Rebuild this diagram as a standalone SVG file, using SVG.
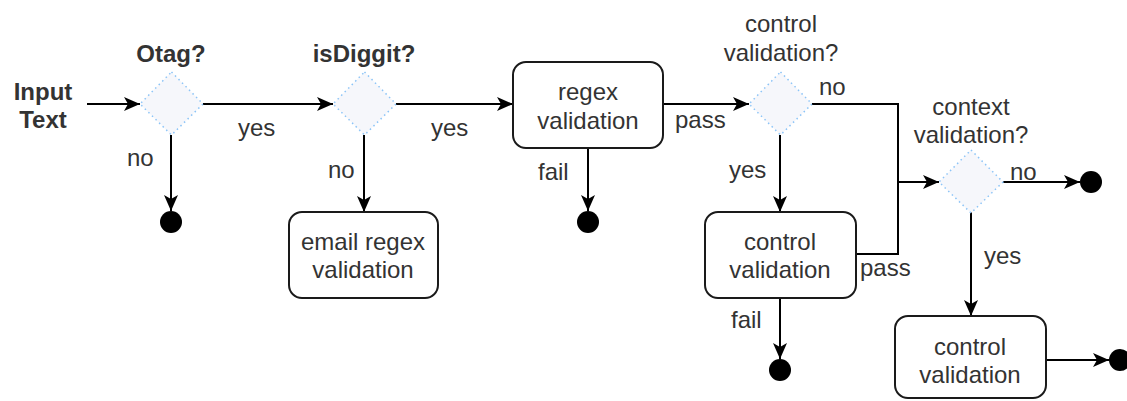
<svg xmlns="http://www.w3.org/2000/svg" width="1127" height="401" viewBox="0 0 1127 401">
  <style>
    text { font-family: "Liberation Sans", Arial, sans-serif; font-size: 24px; fill: #333333; text-anchor: middle; }
    .b { font-weight: bold; }
    .dec { fill: #f6f7fb; stroke: #8cc4f7; stroke-width: 1.5; stroke-dasharray: 1.5 3.5; }
    .box { fill: #ffffff; stroke: #1a1a1a; stroke-width: 2; }
    .end { fill: #000000; }
    .edge { fill: none; stroke: #000000; stroke-width: 2; marker-end: url(#arrow); }
    .line { fill: none; stroke: #000000; stroke-width: 2; }
    .lbl { text-anchor: start; }
  </style>
  <defs>
    <marker id="arrow" markerUnits="userSpaceOnUse" markerWidth="18" markerHeight="18" viewBox="0 0 18 18" refX="17" refY="9" orient="auto">
      <path d="M1,2 L17,9 L1,16 L5,9 Z" fill="#000000"/>
    </marker>
  </defs>

  <!-- connectors -->
  <g id="connectors">
    <path class="edge" d="M87,104 H140"/>
    <path class="edge" d="M171,135 V211"/>
    <path class="edge" d="M203,104 H333"/>
    <path class="edge" d="M364,135 V212"/>
    <path class="edge" d="M396,104 H513"/>
    <path class="edge" d="M588,148 V211"/>
    <path class="edge" d="M663,104 H749"/>
    <path class="edge" d="M780,135 V212"/>
    <path class="line" d="M812,104 H898 V182"/>
    <path class="line" d="M856,254 H898 V182"/>
    <path class="edge" d="M898,182 H939"/>
    <path class="edge" d="M780,298 V359"/>
    <path class="edge" d="M1003,182 H1080"/>
    <path class="edge" d="M971,212 V316"/>
    <path class="edge" d="M1046,360 H1109"/>

    <text class="lbl" x="127" y="166">no</text>
    <text class="lbl" x="238" y="136">yes</text>
    <text class="lbl" x="328" y="178">no</text>
    <text class="lbl" x="431" y="136">yes</text>
    <text class="lbl" x="538" y="180">fail</text>
    <text class="lbl" x="675" y="128">pass</text>
    <text class="lbl" x="819" y="95">no</text>
    <text class="lbl" x="729" y="178">yes</text>
    <text class="lbl" x="860" y="276">pass</text>
    <text class="lbl" x="731" y="328">fail</text>
    <text class="lbl" x="1010" y="180">no</text>
    <text class="lbl" x="984" y="264">yes</text>
  </g>

  <g id="input">
    <text class="b" x="43" y="100">Input</text>
    <text class="b" x="43" y="128">Text</text>
  </g>

  <g id="otag">
    <polygon class="dec" points="171.5,72 203,104 171.5,135 140,104"/>
    <text class="b" x="171" y="62">Otag?</text>
  </g>
  <g id="otag-end"><circle class="end" cx="171" cy="222" r="11"/></g>

  <g id="isdiggit">
    <polygon class="dec" points="364.5,72 396,104 364.5,135 333,104"/>
    <text class="b" x="364" y="62">isDiggit?</text>
  </g>

  <g id="email-regex">
    <rect class="box" x="289" y="212" width="149" height="86" rx="13"/>
    <text x="363" y="250">email regex</text>
    <text x="363" y="278">validation</text>
  </g>

  <g id="regex">
    <rect class="box" x="513" y="62" width="150" height="86" rx="13"/>
    <text x="588" y="100">regex</text>
    <text x="588" y="129">validation</text>
  </g>
  <g id="regex-end"><circle class="end" cx="588" cy="222" r="11"/></g>

  <g id="control-check">
    <polygon class="dec" points="780.5,72 812,104 780.5,135 749,104"/>
    <text x="781" y="32">control</text>
    <text x="781" y="61">validation?</text>
  </g>

  <g id="control-1">
    <rect class="box" x="705" y="212" width="151" height="86" rx="13"/>
    <text x="780" y="250">control</text>
    <text x="780" y="278">validation</text>
  </g>
  <g id="control-1-end"><circle class="end" cx="780" cy="370" r="11"/></g>

  <g id="context-check">
    <polygon class="dec" points="971,150 1003,182 971,213 939,182"/>
    <text x="971" y="115">context</text>
    <text x="971" y="143">validation?</text>
  </g>
  <g id="context-end"><circle class="end" cx="1091" cy="182" r="11"/></g>

  <g id="control-2">
    <rect class="box" x="895" y="316" width="151" height="82" rx="13"/>
    <text x="970" y="355">control</text>
    <text x="970" y="383">validation</text>
  </g>
  <g id="control-2-end"><circle class="end" cx="1120" cy="360" r="11"/></g>
</svg>
